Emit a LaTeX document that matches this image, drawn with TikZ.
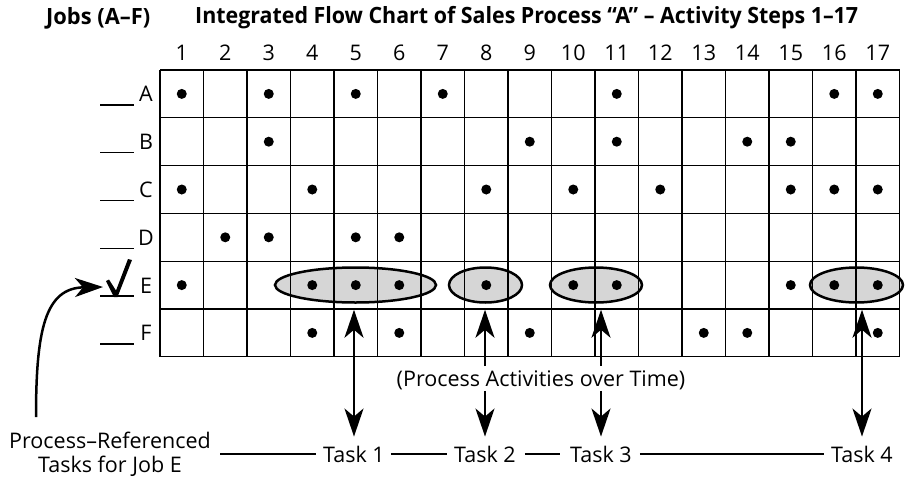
\documentclass[tikz,border=0pt]{standalone}
\usepackage{fontspec}
\usepackage{graphicx}
\setmainfont{Open Sans}
\usetikzlibrary{arrows.meta,shapes.geometric}
\begin{document}
\begin{tikzpicture}[x=1pt,y=-1pt,
  lbl/.style={font=\fontsize{21.5}{24}\selectfont, inner sep=0pt},
  ttl/.style={font=\bfseries\fontsize{22.4}{25}\selectfont, inner sep=0pt, anchor=west},
  gridline/.style={line width=1.3pt},
  dot/.style={circle, fill=black, inner sep=0pt, minimum size=10pt},
  oval/.style={ellipse, draw, line width=2.5pt, fill=black!16, inner sep=0pt, minimum height=35pt},
  arr/.style={line width=2.5pt},
  tline/.style={line width=2pt},
  uline/.style={line width=1.5pt},
  >={Stealth[length=28pt,width=19pt,inset=8pt]}
]
\useasboundingbox (0,0) rectangle (906,477);

% titles
\node[ttl] (jobs) at (46,18) {\resizebox{104pt}{\height}{Jobs (A–F)}};
\node[ttl] (title) at (195,18) {\resizebox{663pt}{\height}{Integrated Flow Chart of Sales Process “A” – Activity Steps 1–17}};

% column numbers
\foreach \i in {1,...,17}
  \node[lbl] (n\i) at (160+\i*43.5-21.75,53) {\i};

% ellipses (row E)
\node[oval, minimum width=161pt] (e1) at (355.5,285) {};
\node[oval, minimum width=73pt] (e2) at (485.5,285) {};
\node[oval, minimum width=92pt] (e3) at (596,285) {};
\node[oval, minimum width=93pt] (e4) at (856.5,285) {};

% grid
\foreach \i in {0,...,17}
  \draw[gridline] (160+\i*43.5,70) -- (160+\i*43.5,357);
\foreach \j in {0,...,6}
  \draw[gridline] (160,70+\j*47.8) -- (899.5,70+\j*47.8);

% row labels
\foreach \r/\L in {1/A,2/B,3/C,4/D,5/E,6/F} {
  \node[lbl, anchor=base] (l\L) at (146,70+\r*47.8-23.9+8) {\L};
  \draw[uline] (100,70+\r*47.8-23.9+11) -- (134,70+\r*47.8-23.9+11);
}

% dots
\foreach \c in {1,3,5,7,11,16,17}
  \node[dot] (dA\c) at (160+\c*43.5-21.75,93.9) {};
\foreach \c in {3,9,11,14,15}
  \node[dot] (dB\c) at (160+\c*43.5-21.75,141.7) {};
\foreach \c in {1,4,8,10,12,15,16,17}
  \node[dot] (dC\c) at (160+\c*43.5-21.75,189.5) {};
\foreach \c in {2,3,5,6}
  \node[dot] (dD\c) at (160+\c*43.5-21.75,237.3) {};
\foreach \c in {1,4,5,6,8,10,11,15,16,17}
  \node[dot] (dE\c) at (160+\c*43.5-21.75,285.1) {};
\foreach \c in {4,6,9,13,14,17}
  \node[dot] (dF\c) at (160+\c*43.5-21.75,332.9) {};

% check mark
\coordinate (chk) at (103,287);
\fill (106,281) -- (109,279.5) -- (116,290.5) -- (128,259) -- (132,260) -- (117.5,297) -- (114,297) -- cycle;

% bottom texts
\node[lbl] (pa) at (541,380) {(Process Activities over Time)};
\node[lbl] (t1) at (354,454) {Task 1};
\node[lbl] (t2) at (485,454) {Task 2};
\node[lbl] (t3) at (601,454) {Task 3};
\node[lbl] (t4) at (862,454) {Task 4};
\node[lbl, align=center, anchor=north] (ref) at (110,431.5) {Process–Referenced\\Tasks for Job E};
\coordinate (cstart) at (36,417);

% connecting lines
\draw[tline, shorten <=9pt, shorten >=7pt] (ref.east |- t1.west) -- (t1.west);
\draw[tline, shorten <=6pt, shorten >=7pt] (t1.east) -- (t2.west);
\draw[tline, shorten <=9pt, shorten >=10pt] (t2.east) -- (t3.west);
\draw[tline, shorten <=8pt, shorten >=7pt] (t3.east) -- (t4.west);

% task arrows
\draw[arr, <->, shorten <=6pt, shorten >=9pt] (t1.north |- e1.south) -- (t1.north);
\draw[arr, ->, shorten <=4pt, shorten >=6pt] (t2.north |- pa.north) -- (t2.north |- e2.south);
\draw[arr, ->, shorten <=1pt, shorten >=9pt] (t2.north |- pa.south) -- (t2.north);
\draw[arr, ->, shorten <=4pt, shorten >=6pt] (t3.north |- pa.north) -- (t3.north |- e3.south);
\draw[arr, ->, shorten <=1pt, shorten >=9pt] (t3.north |- pa.south) -- (t3.north);
\draw[arr, <->, shorten <=6pt, shorten >=9pt] (t4.north |- e4.south) -- (t4.north);

% curved arrow to check mark
\draw[arr, ->] (cstart) .. controls (36,330) and (45,288) .. (chk);
\end{tikzpicture}
\end{document}
